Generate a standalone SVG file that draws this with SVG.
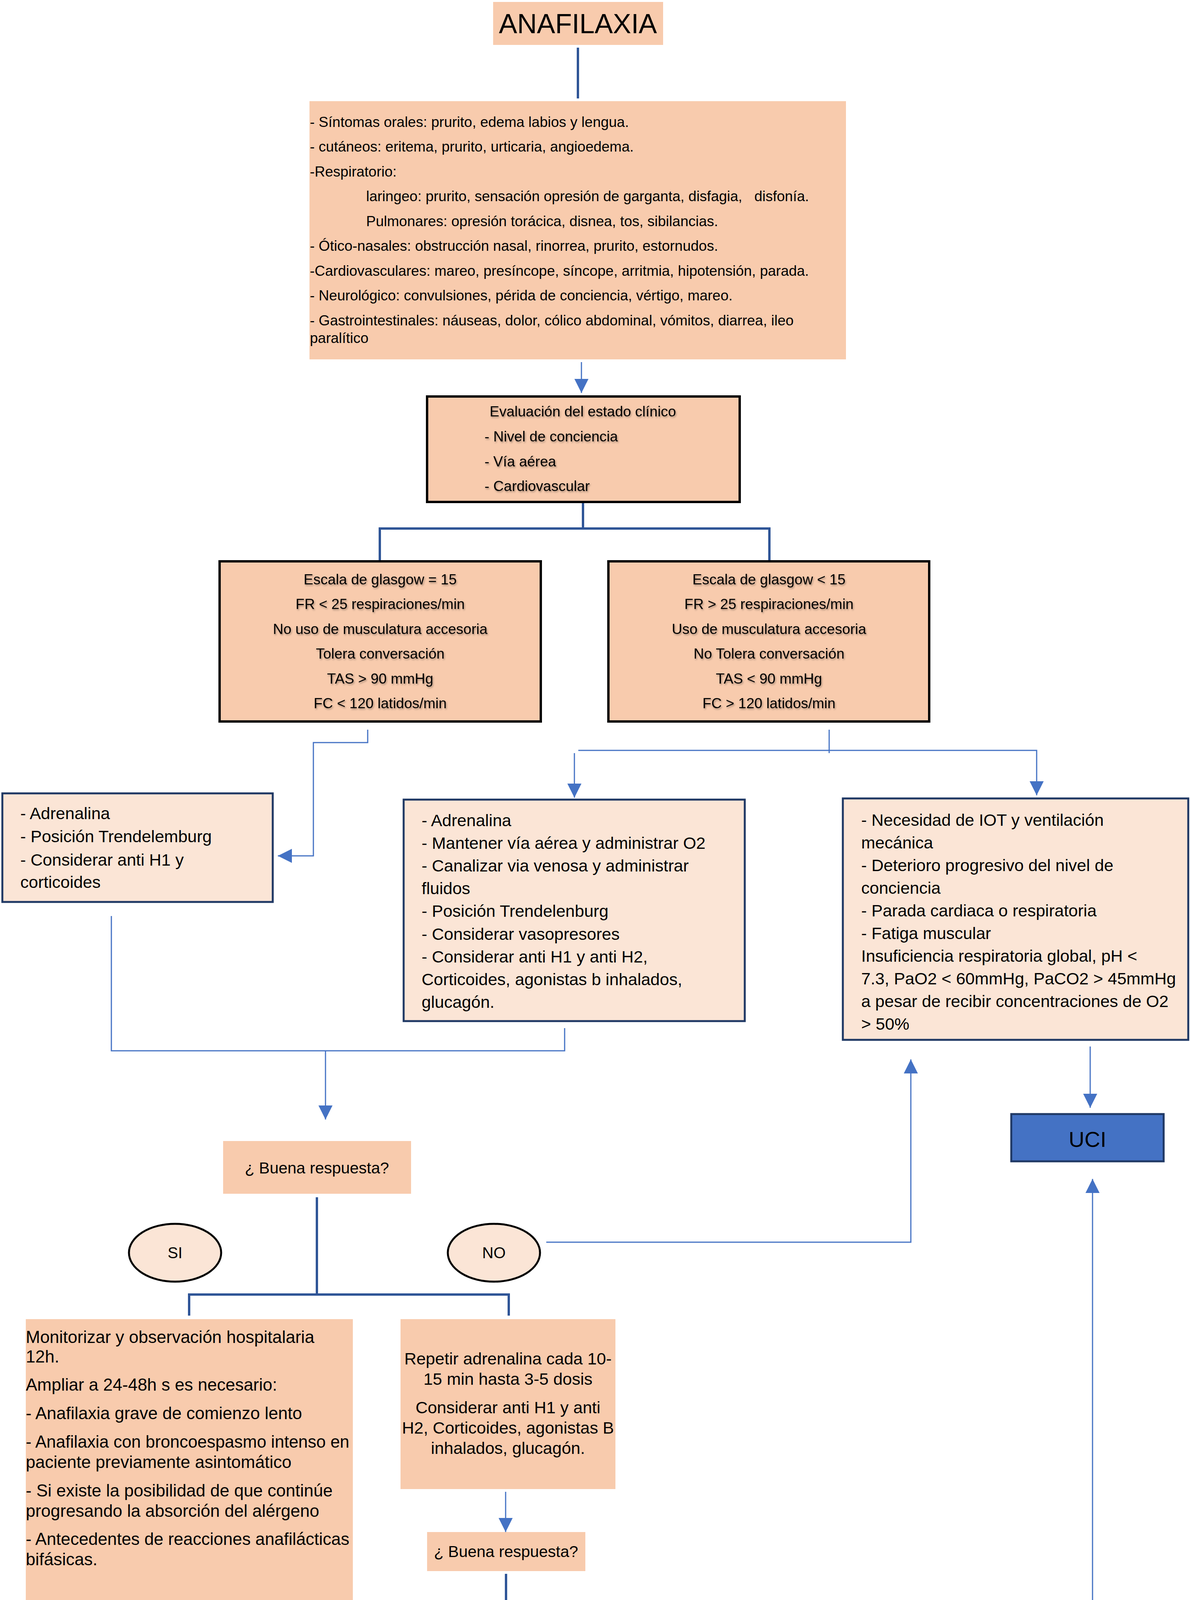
<svg xmlns="http://www.w3.org/2000/svg" width="3048" height="4341" viewBox="0 0 3048 4341">
<style>
text{font-family:"Liberation Sans",Arial,sans-serif;fill:#000}
.peach{fill:#F8CBAD}
.light{fill:#FBE5D6;stroke:#1F3864;stroke-width:5}
.blk{fill:#F8CBAD;stroke:#000;stroke-width:6}
.blue{fill:#4472C4;stroke:#1F3864;stroke-width:5}
.thick{fill:none;stroke:#2F5597;stroke-width:6}
.thin{fill:none;stroke:#4472C4;stroke-width:3}
.arr{marker-end:url(#ah)}
.t37{font-size:37px}
.t43{font-size:43px}
.t44{font-size:44px}
.t41{font-size:41px}
.c{text-anchor:middle}
.sh{filter:url(#shadow)}
.pre{white-space:pre}
</style>
<defs>
<marker id="ah" markerUnits="userSpaceOnUse" markerWidth="36" markerHeight="36" refX="36" refY="18" orient="auto">
<path d="M0,0 L36,18 L0,36 z" fill="#4472C4"/>
</marker>
<filter id="shadow" x="-5%" y="-20%" width="110%" height="150%">
<feDropShadow dx="2" dy="3" stdDeviation="2" flood-color="#000" flood-opacity="0.35"/>
</filter>
</defs>
<rect width="3048" height="4341" fill="#fff"/>

<g id="connectors">
<path class="thick" d="M1479,122 V252"/>
<path class="thin arr" d="M1488,927 V1006"/>
<path class="thick" d="M1492,1287 V1353"/>
<path class="thick" d="M972,1436 V1353 H1969 V1436"/>
<path class="thin arr" d="M941,1868 V1901 H802 V2191 H711"/>
<path class="thin" d="M2122,1868 V1928"/>
<path class="thin arr" d="M1480,1921 H2653 V2036"/>
<path class="thin arr" d="M1470,1928 V2042"/>
<path class="thin" d="M285,2345 V2690 H1445 V2632"/>
<path class="thin arr" d="M833,2690 V2866"/>
<path class="thin arr" d="M2790,2679 V2836"/>
<path class="thin arr" d="M1398,3180 H2331 V2712"/>
<path class="thick" d="M811,3065 V3314"/>
<path class="thick" d="M484,3368 V3314 H1302 V3368"/>
<path class="thin arr" d="M1294,3819 V3922"/>
<path class="thick" d="M1295,4029 V4101"/>
<path class="thick" d="M1151,4176 V4101 H1464 V4176"/>
<path class="thin arr" d="M424,4124 V4205"/>
<path class="thin arr" d="M1052,4238 H713 V4162"/>
<path class="thin arr" d="M1583,4232 H2796 V3018"/>
</g>

<g id="anafilaxia">
<rect class="peach" x="1262" y="5" width="435" height="110"/>
<text class="c" x="1479" y="85" font-size="70">ANAFILAXIA</text>
</g>

<g id="sintomas">
<rect class="peach" x="792" y="259" width="1373" height="661"/>
<g class="t37">
<text x="793" y="325">- Síntomas orales: prurito, edema labios y lengua.</text>
<text x="793" y="388">- cutáneos: eritema, prurito, urticaria, angioedema.</text>
<text x="793" y="452">-Respiratorio:</text>
<text class="pre" x="937" y="515" xml:space="preserve">laringeo: prurito, sensación opresión de garganta, disfagia,   disfonía.</text>
<text x="937" y="579">Pulmonares: opresión torácica, disnea, tos, sibilancias.</text>
<text x="793" y="642">- Ótico-nasales: obstrucción nasal, rinorrea, prurito, estornudos.</text>
<text x="793" y="706">-Cardiovasculares: mareo, presíncope, síncope, arritmia, hipotensión, parada.</text>
<text x="793" y="769">- Neurológico: convulsiones, périda de conciencia, vértigo, mareo.</text>
<text x="793" y="833">- Gastrointestinales: náuseas, dolor, cólico abdominal, vómitos, diarrea, ileo</text>
<text x="793" y="878">paralítico</text>
</g>
</g>

<g id="evaluacion">
<rect class="blk" x="1093" y="1015" width="800" height="270"/>
<g class="t37 sh">
<text x="1253" y="1066">Evaluación del estado clínico</text>
<text x="1240" y="1130">- Nivel de conciencia</text>
<text x="1240" y="1194">- Vía aérea</text>
<text x="1240" y="1257">- Cardiovascular</text>
</g>
</g>

<g id="glasgow-leve">
<rect class="blk" x="562" y="1437" width="822" height="410"/>
<g class="t37 c sh">
<text x="973" y="1496">Escala de glasgow = 15</text>
<text x="973" y="1559">FR &lt; 25 respiraciones/min</text>
<text x="973" y="1623">No uso de musculatura accesoria</text>
<text x="973" y="1686">Tolera conversación</text>
<text x="973" y="1750">TAS &gt; 90 mmHg</text>
<text x="973" y="1813">FC &lt; 120 latidos/min</text>
</g>
</g>

<g id="glasgow-grave">
<rect class="blk" x="1557" y="1437" width="821" height="410"/>
<g class="t37 c sh">
<text x="1968" y="1496">Escala de glasgow &lt; 15</text>
<text x="1968" y="1559">FR &gt; 25 respiraciones/min</text>
<text x="1968" y="1623">Uso de musculatura accesoria</text>
<text x="1968" y="1686">No Tolera conversación</text>
<text x="1968" y="1750">TAS &lt; 90 mmHg</text>
<text x="1968" y="1813">FC &gt; 120 latidos/min</text>
</g>
</g>

<g id="tratamiento-leve">
<rect class="light" x="6" y="2031" width="692" height="278"/>
<g class="t43">
<text x="52" y="2097">- Adrenalina</text>
<text x="52" y="2156">- Posición Trendelemburg</text>
<text x="52" y="2216">- Considerar anti H1 y</text>
<text x="52" y="2273">corticoides</text>
</g>
</g>

<g id="tratamiento-grave">
<rect class="light" x="1033" y="2047" width="873" height="567"/>
<g class="t43">
<text x="1079" y="2115">- Adrenalina</text>
<text x="1079" y="2173">- Mantener vía aérea y administrar O2</text>
<text x="1079" y="2231">- Canalizar via venosa y administrar</text>
<text x="1079" y="2289">fluidos</text>
<text x="1079" y="2347">- Posición Trendelenburg</text>
<text x="1079" y="2406">- Considerar vasopresores</text>
<text x="1079" y="2464">- Considerar anti H1 y anti H2,</text>
<text x="1079" y="2522">Corticoides, agonistas b inhalados,</text>
<text x="1079" y="2580">glucagón.</text>
</g>
</g>

<g id="criterios-uci">
<rect class="light" x="2157" y="2044" width="884" height="618"/>
<g class="t43">
<text x="2204" y="2114">- Necesidad de IOT y ventilación</text>
<text x="2204" y="2172">mecánica</text>
<text x="2204" y="2230">- Deterioro progresivo del nivel de</text>
<text x="2204" y="2288">conciencia</text>
<text x="2204" y="2346">- Parada cardiaca o respiratoria</text>
<text x="2204" y="2404">- Fatiga muscular</text>
<text x="2204" y="2462">Insuficiencia respiratoria global, pH &lt;</text>
<text x="2204" y="2520">7.3, PaO2 &lt; 60mmHg, PaCO2 &gt; 45mmHg</text>
<text x="2204" y="2578">a pesar de recibir concentraciones de O2</text>
<text x="2204" y="2636">&gt; 50%</text>
</g>
</g>

<g id="uci">
<rect class="blue" x="2588" y="2852" width="390" height="121"/>
<text class="c" x="2783" y="2936" font-size="56">UCI</text>
</g>

<g id="buena-respuesta-1">
<rect class="peach" x="571" y="2921" width="481" height="135"/>
<text class="t41 c" x="811" y="3004">¿ Buena respuesta?</text>
</g>

<g id="si-1">
<ellipse cx="448" cy="3207" rx="118" ry="74" fill="#FBE5D6" stroke="#000" stroke-width="5"/>
<text class="c" x="448" y="3221" font-size="40">SI</text>
</g>

<g id="no-1">
<ellipse cx="1264" cy="3207" rx="118" ry="74" fill="#FBE5D6" stroke="#000" stroke-width="5"/>
<text class="c" x="1264" y="3221" font-size="40">NO</text>
</g>

<g id="monitorizar">
<rect class="peach" x="66" y="3377" width="837" height="740"/>
<g class="t44">
<text x="66" y="3438">Monitorizar y observación hospitalaria</text>
<text x="66" y="3488">12h.</text>
<text x="66" y="3560">Ampliar a 24-48h s es necesario:</text>
<text x="66" y="3633">- Anafilaxia grave de comienzo lento</text>
<text x="66" y="3706" textLength="828" lengthAdjust="spacingAndGlyphs">- Anafilaxia con broncoespasmo intenso en</text>
<text x="66" y="3758">paciente previamente asintomático</text>
<text x="66" y="3831">- Si existe la posibilidad de que continúe</text>
<text x="66" y="3883">progresando la absorción del alérgeno</text>
<text x="66" y="3955" textLength="828" lengthAdjust="spacingAndGlyphs">- Antecedentes de reacciones anafilácticas</text>
<text x="66" y="4007">bifásicas.</text>
</g>
</g>

<g id="repetir">
<rect class="peach" x="1025" y="3377" width="550" height="435"/>
<g class="t43 c">
<text x="1300" y="3493">Repetir adrenalina cada 10-</text>
<text x="1300" y="3545">15 min hasta 3-5 dosis</text>
<text x="1300" y="3618">Considerar anti H1 y anti</text>
<text x="1300" y="3670">H2, Corticoides, agonistas B</text>
<text x="1300" y="3722">inhalados, glucagón.</text>
</g>
</g>

<g id="buena-respuesta-2">
<rect class="peach" x="1093" y="3922" width="405" height="100"/>
<text class="t41 c" x="1295" y="3986">¿ Buena respuesta?</text>
</g>

<g id="si-2">
<rect class="peach" x="1075" y="4182" width="155" height="92"/>
<text class="c" x="1152" y="4241" font-size="40">SI</text>
</g>

<g id="no-2">
<rect class="peach" x="1389" y="4182" width="147" height="95"/>
<text class="c" x="1462" y="4242" font-size="40">NO</text>
</g>

<g id="alta">
<rect class="blue" x="211" y="4208" width="401" height="122"/>
<text class="c" x="411" y="4294" font-size="54">ALTA</text>
</g>
</svg>
